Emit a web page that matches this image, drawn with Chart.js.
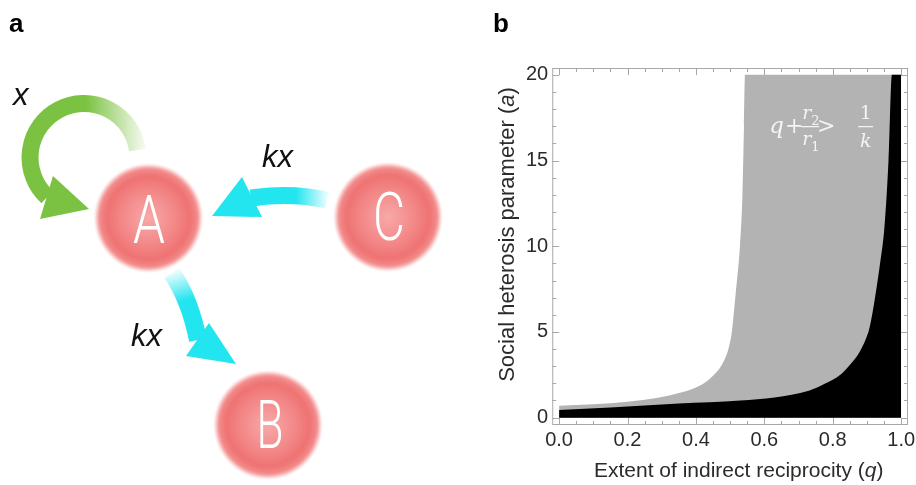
<!DOCTYPE html>
<html>
<head>
<meta charset="utf-8">
<script src="https://cdn.jsdelivr.net/npm/chart.js"></script>
<style>
  html, body { margin: 0; padding: 0; background: #fff; }
  #wrap { position: relative; width: 916px; height: 485px; overflow: hidden; }
  #plot { position: absolute; left: 460px; top: 0; }
  #diagram { position: absolute; left: 0; top: 0; pointer-events: none; }
  .node { font-family: Roboto, 'Open Sans', sans-serif; font-weight: 300; font-size: 67px; fill: #fff; }
  .rate { font-family: 'Liberation Sans', Arial, sans-serif; font-style: italic; font-size: 31px; fill: #111; }
  .panel { font-family: 'Liberation Sans', Arial, sans-serif; font-weight: bold; font-size: 26px; fill: #000; }
</style>
</head>
<body>
<div id="wrap">
  <canvas id="plot" width="464" height="485"></canvas>
  <svg id="diagram" width="916" height="485" viewBox="0 0 916 485">
    <defs>
      <radialGradient id="nodeFill">
        <stop offset="0" stop-color="#f8a9a9"/>
        <stop offset="0.5" stop-color="#f38888"/>
        <stop offset="0.78" stop-color="#ef7272"/>
        <stop offset="0.92" stop-color="#f38b8b"/>
        <stop offset="1" stop-color="#f8b8b8" stop-opacity="0.4"/>
      </radialGradient>
      <filter id="soft" x="-10%" y="-10%" width="120%" height="120%">
        <feGaussianBlur stdDeviation="0.8"/>
      </filter>
      <linearGradient id="loopFade" gradientUnits="userSpaceOnUse" x1="146" y1="0" x2="86" y2="0">
        <stop offset="0" stop-color="#7cc242" stop-opacity="0.05"/>
        <stop offset="1" stop-color="#7cc242"/>
      </linearGradient>
      <linearGradient id="caFade" gradientUnits="userSpaceOnUse" x1="327" y1="0" x2="296" y2="0">
        <stop offset="0" stop-color="#22e5ef" stop-opacity="0.1"/>
        <stop offset="1" stop-color="#22e5ef"/>
      </linearGradient>
      <linearGradient id="abFade" gradientUnits="userSpaceOnUse" x1="172" y1="273" x2="181" y2="302">
        <stop offset="0" stop-color="#22e5ef" stop-opacity="0.1"/>
        <stop offset="1" stop-color="#22e5ef"/>
      </linearGradient>
    </defs>

    <text class="panel" x="9" y="32">a</text>
    <text class="panel" x="493" y="32">b</text>

    <!-- self loop on A -->
    <path d="M 137.5 150 A 54 54 0 1 0 47.2 197" fill="none" stroke="url(#loopFade)" stroke-width="17"/>
    <polygon points="40,219 53,176 89,209" fill="#7cc242"/>
    <text class="rate" x="13" y="105">x</text>

    <!-- C to A -->
    <path d="M 327 200 Q 290 192 251 198" fill="none" stroke="url(#caFade)" stroke-width="17"/>
    <polygon points="212,216 242,177 262,217" fill="#22e5ef"/>
    <text class="rate" x="262" y="167">kx</text>

    <!-- A to B -->
    <path d="M 172 273 Q 190 300 198 340" fill="none" stroke="url(#abFade)" stroke-width="18"/>
    <polygon points="186,356 209,323 236,364" fill="#22e5ef"/>
    <text class="rate" x="131" y="346">kx</text>

    <g filter="url(#soft)">
      <circle cx="148.5" cy="218" r="53.5" fill="url(#nodeFill)"/>
      <circle cx="388" cy="217" r="53.5" fill="url(#nodeFill)"/>
      <circle cx="268" cy="425" r="53.5" fill="url(#nodeFill)"/>
    </g>
    <text class="node" x="149" y="243" text-anchor="middle" textLength="32" lengthAdjust="spacingAndGlyphs">A</text>
    <text class="node" x="389" y="240" text-anchor="middle" textLength="32" lengthAdjust="spacingAndGlyphs">C</text>
    <text class="node" x="270" y="448" text-anchor="middle" textLength="27" lengthAdjust="spacingAndGlyphs">B</text>
  </svg>
</div>

<script>
const qTicks = [0, 0.2, 0.4, 0.6, 0.8, 1.0];
const aTicks = [0, 5, 10, 15, 20];

// upper edge of the grey region (q + r2/r1 > 1/k)
const greyQ = [0, 0.1, 0.2, 0.3, 0.35, 0.4, 0.43, 0.45, 0.47, 0.485, 0.495, 0.505, 0.516, 0.529, 0.536, 0.5405, 0.5435, 1.0];
const greyA = [0.69, 0.78, 0.92, 1.2, 1.43, 1.76, 2.1, 2.45, 2.9, 3.45, 4.0, 5.0, 7.2, 10.1, 13.0, 17.0, 20, 20];

// upper edge of the black region
const blackQ = [0, 0.15, 0.35, 0.53, 0.63, 0.73, 0.775, 0.825, 0.853, 0.878, 0.897, 0.907, 0.917, 0.922, 0.939, 0.951, 0.963, 0.973, 1.0];
const blackA = [0.45, 0.59, 0.82, 1.0, 1.18, 1.57, 1.96, 2.55, 3.14, 3.82, 4.6, 5.2, 6.2, 6.8, 9.1, 11.1, 15.0, 20, 20];

const toPoints = (xs, ys) => xs.map((x, i) => ({ x, y: ys[i] }));

const sans = "'Liberation Sans', Arial, sans-serif";
const serif = "'DejaVu Serif', 'Liberation Serif', serif";

Chart.defaults.font.family = sans;

// draws a run of text pieces with their own fonts, centred on x
function drawRun(ctx, parts, x, y) {
  const widths = parts.map(([t, f]) => { ctx.font = f; return ctx.measureText(t).width; });
  let cx = x - widths.reduce((a, b) => a + b, 0) / 2;
  parts.forEach(([t, f], i) => {
    ctx.font = f;
    ctx.fillText(t, cx, y);
    cx += widths[i];
  });
}

const framePlugin = {
  id: 'frame',
  afterDraw(chart) {
    const { ctx, chartArea: ca, scales: { x, y } } = chart;
    ctx.save();

    // frame with inward ticks on all four sides
    ctx.strokeStyle = '#a8a8a8';
    ctx.lineWidth = 1;
    ctx.strokeRect(ca.left + 0.5, ca.top + 0.5, ca.right - ca.left - 1, ca.bottom - ca.top - 1);
    ctx.beginPath();
    for (let i = 0; i <= 20; i++) {
      const px = Math.round(x.getPixelForValue(i * 0.05)) + 0.5;
      const len = i % 4 === 0 ? 7 : 4;
      ctx.moveTo(px, ca.bottom); ctx.lineTo(px, ca.bottom - len);
      ctx.moveTo(px, ca.top); ctx.lineTo(px, ca.top + len);
    }
    for (let v = 0; v <= 20; v++) {
      const py = Math.round(y.getPixelForValue(v)) + 0.5;
      const len = v % 5 === 0 ? 7 : 4;
      ctx.moveTo(ca.left, py); ctx.lineTo(ca.left + len, py);
      ctx.moveTo(ca.right, py); ctx.lineTo(ca.right - len, py);
    }
    ctx.stroke();

    // axis titles
    ctx.fillStyle = '#2b2b2b';
    ctx.textAlign = 'left';
    ctx.textBaseline = 'alphabetic';
    drawRun(ctx, [
      ['Extent of indirect reciprocity (', '21px ' + sans],
      ['q', 'italic 21px ' + sans],
      [')', '21px ' + sans]
    ], x.getPixelForValue(0.525), ca.bottom + 52);

    ctx.save();
    ctx.translate(ca.left - 38, (ca.top + ca.bottom) / 2 - 12);
    ctx.rotate(-Math.PI / 2);
    drawRun(ctx, [
      ['Social heterosis parameter (', '22px ' + sans],
      ['a', 'italic 22px ' + sans],
      [')', '22px ' + sans]
    ], 0, 0);
    ctx.restore();

    // condition written inside the grey region
    const fx = x.getPixelForValue(0.62);
    const fy = y.getPixelForValue(16.6);
    ctx.fillStyle = '#f4f4f4';
    ctx.strokeStyle = '#f4f4f4';
    ctx.font = 'italic 23px ' + serif;
    ctx.fillText('q', fx - 2, fy);
    ctx.textAlign = 'center';
    ctx.font = '22px ' + serif;
    ctx.fillText('+', fx + 23, fy);
    ctx.fillText('>', fx + 55, fy);
    ctx.lineWidth = 1.3;
    ctx.beginPath();
    ctx.moveTo(fx + 30, fy - 6.5); ctx.lineTo(fx + 48, fy - 6.5);
    ctx.moveTo(fx + 87, fy - 6.5); ctx.lineTo(fx + 102, fy - 6.5);
    ctx.stroke();
    ctx.textAlign = 'left';
    ctx.font = 'italic 19px ' + serif;
    ctx.fillText('r', fx + 31, fy - 14);
    ctx.fillText('r', fx + 31, fy + 12);
    ctx.font = '13px ' + serif;
    ctx.fillText('2', fx + 40, fy - 8);
    ctx.fillText('1', fx + 40, fy + 18);
    ctx.textAlign = 'center';
    ctx.font = '19px ' + serif;
    ctx.fillText('1', fx + 94.5, fy - 14);
    ctx.font = 'italic 19px ' + serif;
    ctx.fillText('k', fx + 94.5, fy + 14);

    ctx.restore();
  }
};

new Chart(document.getElementById('plot'), {
  type: 'line',
  data: {
    datasets: [
      {
        data: toPoints(blackQ, blackA),
        backgroundColor: '#000',
        borderColor: 'rgba(0,0,0,0)',
        fill: 'origin',
        order: 1
      },
      {
        data: toPoints(greyQ, greyA),
        backgroundColor: '#b3b3b3',
        borderColor: 'rgba(0,0,0,0)',
        fill: 'origin',
        order: 2
      }
    ]
  },
  options: {
    responsive: false,
    animation: false,
    layout: { padding: { left: 62, right: 16, top: 68, bottom: 20 } },
    elements: {
      line: { borderWidth: 0, cubicInterpolationMode: 'monotone' },
      point: { radius: 0, hoverRadius: 0 }
    },
    plugins: { legend: { display: false }, tooltip: { enabled: false } },
    scales: {
      x: {
        type: 'linear',
        min: -0.02,
        max: 1.02,
        grid: { display: false, drawTicks: false },
        border: { display: false },
        afterBuildTicks: s => { s.ticks = qTicks.map(v => ({ value: v })); },
        afterFit: s => { s.height = 40; },
        ticks: {
          padding: 3,
          color: '#2b2b2b',
          font: { size: 20 },
          maxRotation: 0,
          autoSkip: false,
          callback: v => v.toFixed(1)
        }
      },
      y: {
        min: -0.43,
        max: 20.4,
        grid: { display: false, drawTicks: false },
        border: { display: false },
        afterBuildTicks: s => { s.ticks = aTicks.map(v => ({ value: v })); },
        ticks: {
          padding: 4,
          color: '#2b2b2b',
          font: { size: 20 },
          autoSkip: false,
          callback: v => String(v)
        }
      }
    }
  },
  plugins: [framePlugin]
});
</script>
</body>
</html>
